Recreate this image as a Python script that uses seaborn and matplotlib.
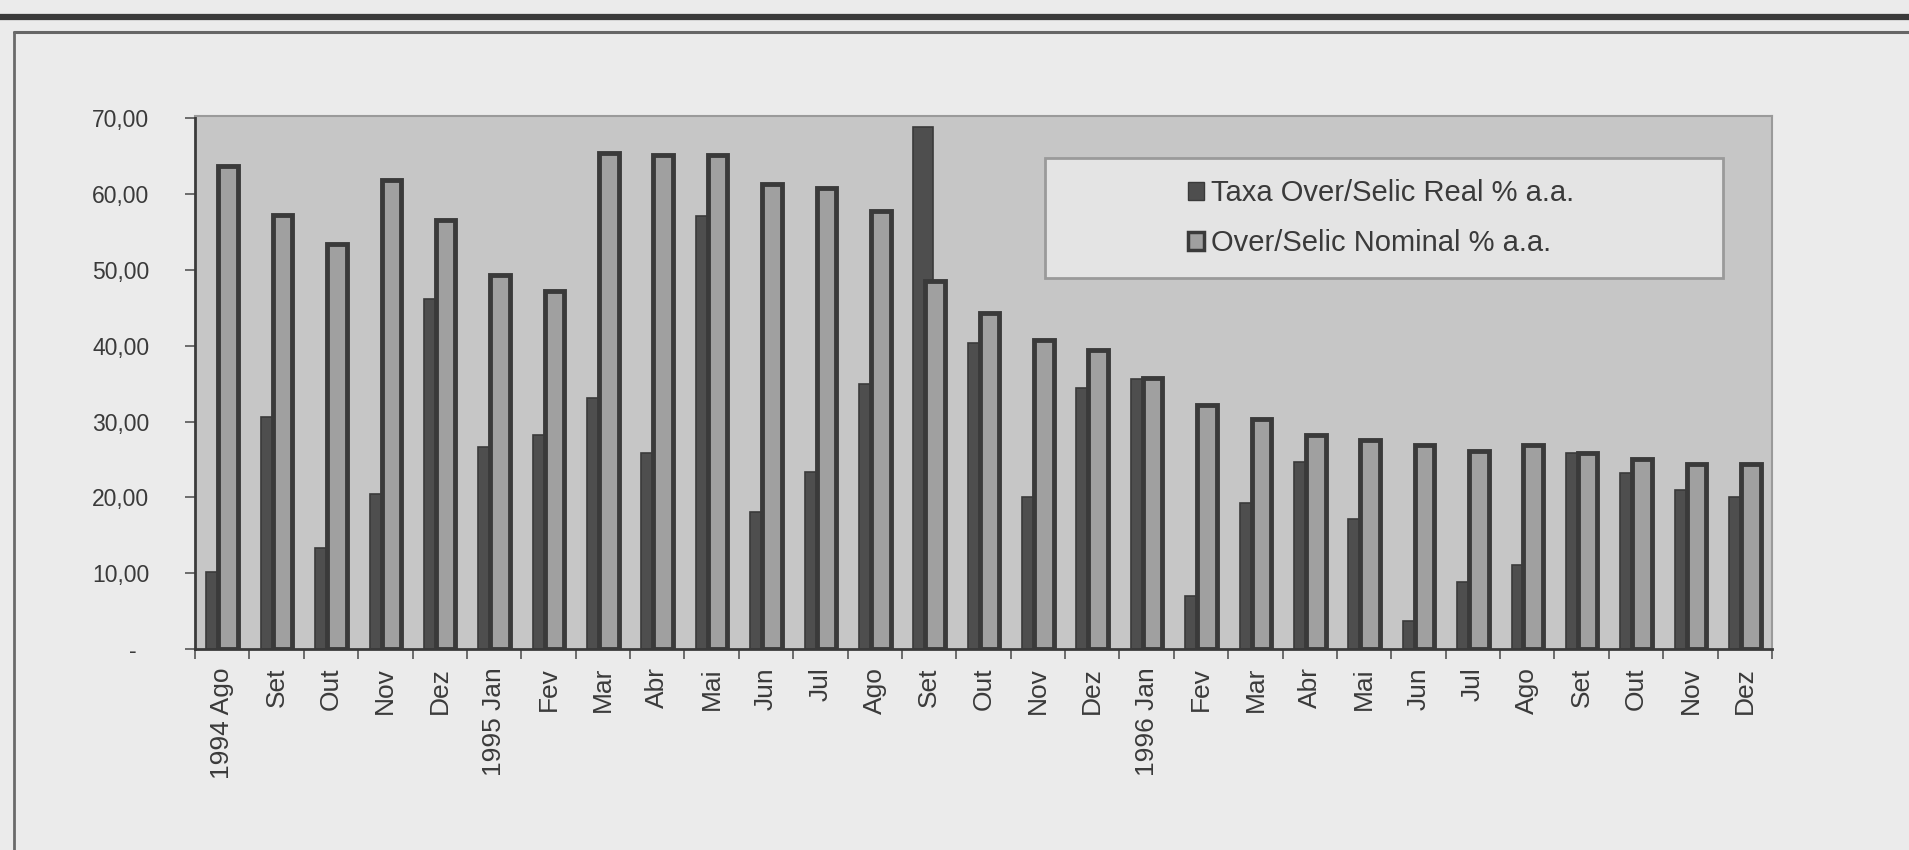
import matplotlib
matplotlib.use("Agg")
import matplotlib.pyplot as plt
from matplotlib.patches import Rectangle, Patch
from matplotlib.lines import Line2D
import seaborn as sns
import numpy as np
import pandas as pd

# Monthly Over/Selic rates, Aug 1994 - Dec 1996 (% a.a.)
months = ["1994 Ago", "Set", "Out", "Nov", "Dez",
          "1995 Jan", "Fev", "Mar", "Abr", "Mai", "Jun", "Jul", "Ago", "Set", "Out", "Nov", "Dez",
          "1996 Jan", "Fev", "Mar", "Abr", "Mai", "Jun", "Jul", "Ago", "Set", "Out", "Nov", "Dez"]
real_rate = [10.1, 30.6, 13.3, 20.5, 46.2,
             26.6, 28.2, 33.1, 25.8, 57.1, 18.1, 23.4, 34.9, 68.8, 40.3, 20.0, 34.4,
             35.6, 7.0, 19.2, 24.7, 17.1, 3.7, 8.9, 11.1, 25.8, 23.2, 21.0, 20.0]
nominal_rate = [63.7, 57.3, 53.4, 61.9, 56.6,
                49.3, 47.2, 65.4, 65.1, 65.1, 61.3, 60.8, 57.8, 48.6, 44.3, 40.8, 39.5,
                35.8, 32.2, 30.4, 28.2, 27.6, 26.9, 26.1, 26.9, 25.8, 25.0, 24.4, 24.4]
series_names = ["Taxa Over/Selic Real % a.a.", "Over/Selic Nominal % a.a."]
y_ticks = [0, 10, 20, 30, 40, 50, 60, 70]
y_tick_labels = ["-  ", "10,00", "20,00", "30,00", "40,00", "50,00", "60,00", "70,00"]

sns.set_theme(style="white")
plt.rcParams["font.family"] = ["Liberation Sans", "DejaVu Sans"]

outer_bg = "#ebebeb"
plot_bg = "#c6c6c6"
real_color = "#4e4e4e"
nominal_fill = "#a0a0a0"
edge_dark = "#3a3a3a"
text_color = "#3a3a3a"

W, H = 1909, 850
fig = plt.figure(figsize=(W / 100, H / 100), dpi=100, facecolor=outer_bg)

# Page rules and the chart frame
fig.add_artist(Line2D([0, 1], [1 - 17 / H, 1 - 17 / H], transform=fig.transFigure,
                      color="#3a3a3a", lw=4.5))
fig.add_artist(Line2D([14 / W, 1], [1 - 32 / H, 1 - 32 / H], transform=fig.transFigure,
                      color="#666666", lw=2.2))
fig.add_artist(Line2D([14 / W, 14 / W], [0, 1 - 32 / H], transform=fig.transFigure,
                      color="#6a6a6a", lw=2.0))

left, right, top, bottom = 195, 1772, 116, 649
ax = fig.add_axes([left / W, 1 - bottom / H, (right - left) / W, (bottom - top) / H])
ax.set_facecolor(plot_bg)

pos = np.arange(len(months))
shift = 0.11
df_real = pd.DataFrame({"x": pos - shift, "y": real_rate})
df_nom = pd.DataFrame({"x": pos + shift, "y": nominal_rate})

sns.barplot(data=df_real, x="x", y="y", native_scale=True, width=0.36,
            color=real_color, saturation=1, edgecolor=edge_dark, linewidth=1.2, ax=ax)
sns.barplot(data=df_nom, x="x", y="y", native_scale=True, width=0.36,
            color=nominal_fill, saturation=1, edgecolor=edge_dark, linewidth=3.5, ax=ax)

ax.set_xlim(-0.5, len(months) - 0.5)
ax.set_ylim(0, 70.3)
ax.set_xlabel("")
ax.set_ylabel("")

ax.set_xticks(pos)
ax.set_xticklabels(months, rotation=90, fontsize=19, color=text_color)
ax.set_xticks(np.arange(-0.5, len(months), 1.0), minor=True)
ax.tick_params(axis="x", which="major", length=0, pad=13)
ax.tick_params(axis="x", which="minor", length=7, width=1.2, color="#555555", bottom=True)

ax.set_yticks(y_ticks)
ax.set_yticklabels(y_tick_labels, fontsize=16.5, color=text_color)
ax.tick_params(axis="y", which="major", length=7, width=1.2, color="#555555", left=True, pad=26)

for side in ["left", "bottom"]:
    ax.spines[side].set_color("#3a3a3a")
    ax.spines[side].set_linewidth(2.0)
for side in ["top", "right"]:
    ax.spines[side].set_color("#9a9a9a")
    ax.spines[side].set_linewidth(1.5)

# Legend panel
ax.add_patch(Rectangle((0.539, 0.696), 0.43, 0.225, transform=ax.transAxes,
                       facecolor="#e4e4e4", edgecolor="#9a9a9a", lw=2.0, zorder=5))
handles = [Patch(facecolor=real_color, edgecolor=edge_dark, linewidth=1.0),
           Patch(facecolor=nominal_fill, edgecolor=edge_dark, linewidth=2.5)]
leg = ax.legend(handles, series_names, loc="center", bbox_to_anchor=(0.752, 0.808),
                frameon=False, fontsize=21, labelspacing=0.75, handlelength=0.55,
                handleheight=0.6, handletextpad=0.25, labelcolor=text_color)
leg.set_zorder(6)

fig.savefig("out.png", dpi=100, facecolor=outer_bg)
